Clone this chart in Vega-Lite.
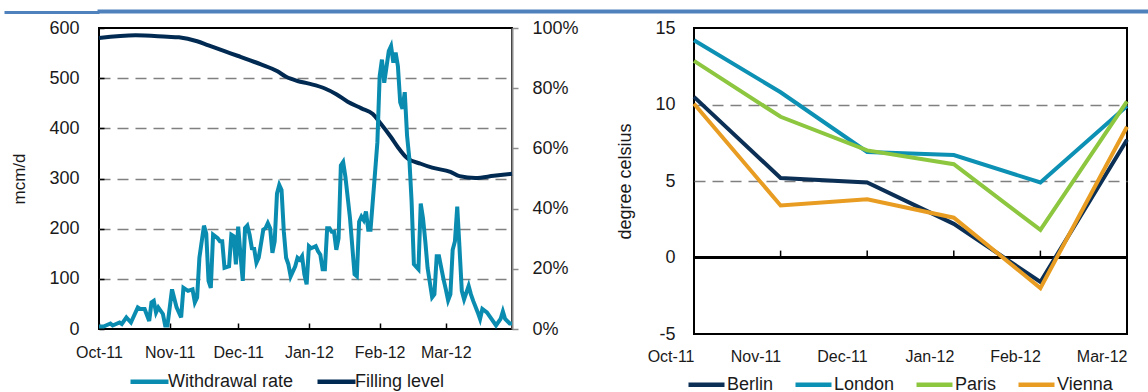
{
  "$schema": "https://vega.github.io/schema/vega-lite/v6.json",
  "padding": {"left": 1, "top": 9, "right": 0, "bottom": 0},
  "background": "white",
  "config": {
    "font": "Liberation Sans",
    "view": {"stroke": "black", "strokeWidth": 2},
    "axis": {"labelColor": "#1a1a1a", "titleColor": "#1a1a1a", "titleFontWeight": "normal", "domainColor": "black", "tickColor": "black", "labelFont": "Liberation Sans", "titleFont": "Liberation Sans"},
    "legend": {"labelFont": "Liberation Sans", "labelColor": "#1a1a1a"}
  },
  "datasets": {
    "withdrawal": [
      {"date": "2011-10-01", "rate": 5}, {"date": "2011-10-03", "rate": 5}, {"date": "2011-10-06", "rate": 11}, {"date": "2011-10-07", "rate": 7},
      {"date": "2011-10-10", "rate": 13}, {"date": "2011-10-11", "rate": 10}, {"date": "2011-10-13", "rate": 23}, {"date": "2011-10-15", "rate": 13},
      {"date": "2011-10-18", "rate": 43}, {"date": "2011-10-19", "rate": 40}, {"date": "2011-10-21", "rate": 40}, {"date": "2011-10-23", "rate": 16},
      {"date": "2011-10-24", "rate": 53}, {"date": "2011-10-25", "rate": 56}, {"date": "2011-10-26", "rate": 33}, {"date": "2011-10-27", "rate": 43},
      {"date": "2011-10-29", "rate": 30}, {"date": "2011-10-30", "rate": 7}, {"date": "2011-10-31", "rate": 7}, {"date": "2011-11-02", "rate": 79},
      {"date": "2011-11-04", "rate": 43}, {"date": "2011-11-06", "rate": 23}, {"date": "2011-11-07", "rate": 82}, {"date": "2011-11-09", "rate": 76},
      {"date": "2011-11-11", "rate": 79}, {"date": "2011-11-12", "rate": 53}, {"date": "2011-11-13", "rate": 63}, {"date": "2011-11-14", "rate": 142},
      {"date": "2011-11-16", "rate": 206}, {"date": "2011-11-17", "rate": 190}, {"date": "2011-11-18", "rate": 96}, {"date": "2011-11-19", "rate": 82},
      {"date": "2011-11-20", "rate": 188}, {"date": "2011-11-22", "rate": 181}, {"date": "2011-11-23", "rate": 175}, {"date": "2011-11-24", "rate": 175},
      {"date": "2011-11-25", "rate": 122}, {"date": "2011-11-27", "rate": 125}, {"date": "2011-11-28", "rate": 188}, {"date": "2011-11-29", "rate": 185},
      {"date": "2011-11-30", "rate": 129}, {"date": "2011-12-01", "rate": 204}, {"date": "2011-12-02", "rate": 148}, {"date": "2011-12-03", "rate": 96},
      {"date": "2011-12-04", "rate": 201}, {"date": "2011-12-05", "rate": 206}, {"date": "2011-12-06", "rate": 188}, {"date": "2011-12-07", "rate": 161},
      {"date": "2011-12-08", "rate": 160}, {"date": "2011-12-09", "rate": 132}, {"date": "2011-12-10", "rate": 142}, {"date": "2011-12-12", "rate": 198},
      {"date": "2011-12-13", "rate": 201}, {"date": "2011-12-14", "rate": 211}, {"date": "2011-12-15", "rate": 201}, {"date": "2011-12-16", "rate": 152},
      {"date": "2011-12-17", "rate": 175}, {"date": "2011-12-18", "rate": 270}, {"date": "2011-12-19", "rate": 287}, {"date": "2011-12-20", "rate": 277},
      {"date": "2011-12-21", "rate": 194}, {"date": "2011-12-22", "rate": 142}, {"date": "2011-12-23", "rate": 129}, {"date": "2011-12-24", "rate": 105},
      {"date": "2011-12-26", "rate": 125}, {"date": "2011-12-27", "rate": 142}, {"date": "2011-12-28", "rate": 138}, {"date": "2011-12-29", "rate": 145},
      {"date": "2011-12-30", "rate": 109}, {"date": "2011-12-31", "rate": 89}, {"date": "2012-01-01", "rate": 165}, {"date": "2012-01-02", "rate": 161},
      {"date": "2012-01-04", "rate": 165}, {"date": "2012-01-05", "rate": 155}, {"date": "2012-01-06", "rate": 148}, {"date": "2012-01-07", "rate": 119},
      {"date": "2012-01-08", "rate": 119}, {"date": "2012-01-09", "rate": 201}, {"date": "2012-01-10", "rate": 201}, {"date": "2012-01-11", "rate": 194},
      {"date": "2012-01-12", "rate": 194}, {"date": "2012-01-13", "rate": 158}, {"date": "2012-01-14", "rate": 181}, {"date": "2012-01-15", "rate": 326},
      {"date": "2012-01-16", "rate": 333}, {"date": "2012-01-17", "rate": 303}, {"date": "2012-01-19", "rate": 221}, {"date": "2012-01-21", "rate": 109},
      {"date": "2012-01-22", "rate": 105}, {"date": "2012-01-23", "rate": 214}, {"date": "2012-01-24", "rate": 224}, {"date": "2012-01-25", "rate": 217},
      {"date": "2012-01-26", "rate": 234}, {"date": "2012-01-27", "rate": 198}, {"date": "2012-01-28", "rate": 198}, {"date": "2012-01-30", "rate": 313},
      {"date": "2012-01-31", "rate": 372}, {"date": "2012-02-01", "rate": 504}, {"date": "2012-02-02", "rate": 537}, {"date": "2012-02-03", "rate": 491},
      {"date": "2012-02-05", "rate": 554}, {"date": "2012-02-06", "rate": 564}, {"date": "2012-02-07", "rate": 531}, {"date": "2012-02-08", "rate": 551},
      {"date": "2012-02-09", "rate": 524}, {"date": "2012-02-10", "rate": 452}, {"date": "2012-02-11", "rate": 439}, {"date": "2012-02-12", "rate": 472},
      {"date": "2012-02-13", "rate": 386}, {"date": "2012-02-14", "rate": 340}, {"date": "2012-02-15", "rate": 254}, {"date": "2012-02-16", "rate": 129},
      {"date": "2012-02-18", "rate": 119}, {"date": "2012-02-19", "rate": 250}, {"date": "2012-02-20", "rate": 221}, {"date": "2012-02-21", "rate": 175},
      {"date": "2012-02-22", "rate": 122}, {"date": "2012-02-24", "rate": 63}, {"date": "2012-02-25", "rate": 69}, {"date": "2012-02-26", "rate": 145},
      {"date": "2012-02-27", "rate": 145}, {"date": "2012-02-29", "rate": 99}, {"date": "2012-03-01", "rate": 79}, {"date": "2012-03-02", "rate": 57},
      {"date": "2012-03-03", "rate": 69}, {"date": "2012-03-04", "rate": 158}, {"date": "2012-03-05", "rate": 175}, {"date": "2012-03-06", "rate": 244},
      {"date": "2012-03-07", "rate": 161}, {"date": "2012-03-08", "rate": 76}, {"date": "2012-03-09", "rate": 59}, {"date": "2012-03-11", "rate": 86},
      {"date": "2012-03-12", "rate": 69}, {"date": "2012-03-13", "rate": 56}, {"date": "2012-03-15", "rate": 33}, {"date": "2012-03-16", "rate": 20},
      {"date": "2012-03-17", "rate": 40}, {"date": "2012-03-19", "rate": 33}, {"date": "2012-03-21", "rate": 20}, {"date": "2012-03-23", "rate": 7},
      {"date": "2012-03-25", "rate": 20}, {"date": "2012-03-26", "rate": 35}, {"date": "2012-03-27", "rate": 20}, {"date": "2012-03-29", "rate": 11},
      {"date": "2012-03-30", "rate": 11}
    ],
    "filling": [
      {"date": "2011-10-01", "level": 0.967}, {"date": "2011-10-17", "level": 0.976}, {"date": "2011-10-31", "level": 0.971},
      {"date": "2011-11-05", "level": 0.969}, {"date": "2011-11-13", "level": 0.956}, {"date": "2011-11-18", "level": 0.942},
      {"date": "2011-11-25", "level": 0.923}, {"date": "2011-12-01", "level": 0.907}, {"date": "2011-12-11", "level": 0.879},
      {"date": "2011-12-18", "level": 0.857}, {"date": "2011-12-22", "level": 0.838}, {"date": "2011-12-27", "level": 0.824},
      {"date": "2012-01-01", "level": 0.815}, {"date": "2012-01-08", "level": 0.799}, {"date": "2012-01-13", "level": 0.780},
      {"date": "2012-01-18", "level": 0.755}, {"date": "2012-01-24", "level": 0.733}, {"date": "2012-01-29", "level": 0.714},
      {"date": "2012-02-01", "level": 0.687}, {"date": "2012-02-06", "level": 0.637}, {"date": "2012-02-09", "level": 0.604},
      {"date": "2012-02-13", "level": 0.568}, {"date": "2012-02-19", "level": 0.549}, {"date": "2012-02-24", "level": 0.536},
      {"date": "2012-03-03", "level": 0.522}, {"date": "2012-03-07", "level": 0.508}, {"date": "2012-03-14", "level": 0.502},
      {"date": "2012-03-22", "level": 0.509}, {"date": "2012-03-30", "level": 0.516}
    ],
    "temps": [
      {"month": "Oct-11", "city": "Berlin", "temp": 10.5}, {"month": "Nov-11", "city": "Berlin", "temp": 5.2}, {"month": "Dec-11", "city": "Berlin", "temp": 4.9},
      {"month": "Jan-12", "city": "Berlin", "temp": 2.2}, {"month": "Feb-12", "city": "Berlin", "temp": -1.6}, {"month": "Mar-12", "city": "Berlin", "temp": 7.7},
      {"month": "Oct-11", "city": "London", "temp": 14.2}, {"month": "Nov-11", "city": "London", "temp": 10.8}, {"month": "Dec-11", "city": "London", "temp": 6.9},
      {"month": "Jan-12", "city": "London", "temp": 6.7}, {"month": "Feb-12", "city": "London", "temp": 4.9}, {"month": "Mar-12", "city": "London", "temp": 9.9},
      {"month": "Oct-11", "city": "Paris", "temp": 12.85}, {"month": "Nov-11", "city": "Paris", "temp": 9.2}, {"month": "Dec-11", "city": "Paris", "temp": 7.0},
      {"month": "Jan-12", "city": "Paris", "temp": 6.1}, {"month": "Feb-12", "city": "Paris", "temp": 1.8}, {"month": "Mar-12", "city": "Paris", "temp": 10.2},
      {"month": "Oct-11", "city": "Vienna", "temp": 10.05}, {"month": "Nov-11", "city": "Vienna", "temp": 3.4}, {"month": "Dec-11", "city": "Vienna", "temp": 3.8},
      {"month": "Jan-12", "city": "Vienna", "temp": 2.6}, {"month": "Feb-12", "city": "Vienna", "temp": -2.0}, {"month": "Mar-12", "city": "Vienna", "temp": 8.55}
    ]
  },
  "concat": [
    {
      "width": 1053, "height": 1,
      "data": {"values": []},
      "mark": {"type": "point", "opacity": 0},
      "encoding": {
        "y": {
          "datum": 0, "type": "quantitative",
          "scale": {"domain": [0, 1]},
          "axis": {"title": null, "values": [0.5], "labels": false, "domain": false, "grid": false, "tickSize": 95, "tickWidth": 3, "tickColor": "#4f81bd"}
        }
      },
      "view": {"stroke": "#4f81bd", "strokeWidth": 3}
    },
    {
      "concat": [
        {
          "width": 413, "height": 301,
          "layer": [
            {
              "data": {"name": "filling"},
              "mark": {"type": "line", "strokeWidth": 4, "interpolate": "monotone"},
              "encoding": {
                "x": {
                  "field": "date", "type": "temporal",
                  "scale": {"type": "utc", "domain": [{"year": 2011, "month": 10, "date": 1, "utc": true}, {"year": 2012, "month": 3, "date": 30, "utc": true}]},
                  "axis": {
                    "title": null,
                    "labelExpr": "utcFormat(datum.value, '%b-%y')",
                    "values": [{"year": 2011, "month": 10, "date": 1, "utc": true}, {"year": 2011, "month": 11, "date": 1, "utc": true}, {"year": 2011, "month": 12, "date": 1, "utc": true}, {"year": 2012, "month": 1, "date": 1, "utc": true}, {"year": 2012, "month": 2, "date": 1, "utc": true}, {"year": 2012, "month": 3, "date": 1, "utc": true}],
                    "domain": false, "grid": false, "tickSize": -6, "tickWidth": 1.5, "labelPadding": 21, "labelFontSize": 16, "labelFlush": false, "labelOverlap": false, "labelAngle": 0
                  }
                },
                "y": {
                  "field": "level", "type": "quantitative",
                  "scale": {"domain": [0, 1], "nice": false},
                  "axis": {"orient": "right", "title": null, "values": [0, 0.2, 0.4, 0.6, 0.8, 1], "format": ".0%", "grid": false, "domainColor": "#8c8c8c", "domainWidth": 2, "tickColor": "#8c8c8c", "tickSize": 6, "tickWidth": 1.5, "labelPadding": 14, "labelFontSize": 18}
                },
                "color": {
                  "datum": "Filling level", "type": "nominal",
                  "scale": {"domain": ["Withdrawal rate", "Filling level"], "range": ["#0a8cb0", "#002a52"]},
                  "legend": {"orient": "none", "legendX": 29, "legendY": 332, "direction": "horizontal", "title": null, "symbolType": "stroke", "symbolSize": 1444, "symbolStrokeWidth": 4.5, "labelFontSize": 18, "labelOffset": -3, "columnPadding": 14}
                }
              }
            },
            {
              "data": {"name": "withdrawal"},
              "mark": {"type": "line", "strokeWidth": 4},
              "encoding": {
                "x": {"field": "date", "type": "temporal"},
                "y": {
                  "field": "rate", "type": "quantitative",
                  "scale": {"domain": [0, 600], "nice": false},
                  "axis": {
                    "orient": "left", "title": "mcm/d", "titleFontSize": 17, "titlePadding": 20, "values": [0, 100, 200, 300, 400, 500, 600],
                    "domain": false, "tickSize": -5, "tickWidth": 1.5, "labelPadding": 25, "labelFontSize": 18,
                    "grid": true, "gridColor": "#808080", "gridWidth": 1.6, "gridDash": [11, 7],
                    "gridOpacity": {"condition": {"test": "datum.value > 0 && datum.value < 600", "value": 1}, "value": 0}
                  }
                },
                "color": {"datum": "Withdrawal rate", "type": "nominal"}
              }
            }
          ],
          "resolve": {"scale": {"y": "independent"}}
        },
        {
          "width": 433, "height": 306,
          "data": {"name": "temps"},
          "layer": [
            {
              "mark": {"type": "rule", "color": "black", "strokeWidth": 1.5},
              "encoding": {"y": {"datum": 0, "type": "quantitative"}}
            },
            {
              "transform": [{"filter": "datum.city == 'Berlin' && datum.month != 'Oct-11' && datum.month != 'Mar-12'"}],
              "mark": {"type": "rule", "color": "black", "strokeWidth": 1.5},
              "encoding": {
                "x": {"field": "month", "type": "ordinal"},
                "y": {"datum": 0, "type": "quantitative"},
                "y2": {"datum": 0.45}
              }
            },
            {
              "mark": {"type": "line", "strokeWidth": 4},
              "encoding": {
                "x": {
                  "field": "month", "type": "ordinal",
                  "scale": {"type": "point", "padding": 0, "domain": ["Oct-11", "Nov-11", "Dec-11", "Jan-12", "Feb-12", "Mar-12"]},
                  "axis": {"title": null, "ticks": false, "domain": false, "labelPadding": 22, "labelFontSize": 16, "labelAngle": 0, "grid": false}
                },
                "y": {
                  "field": "temp", "type": "quantitative",
                  "scale": {"domain": [-5, 15], "nice": false},
                  "axis": {
                    "title": "degree celsius", "titleFontSize": 18, "titlePadding": 20, "values": [-5, 0, 5, 10, 15],
                    "labelExpr": "datum.value < 0 ? '-' + (-datum.value) : '' + datum.value",
                    "domain": false, "ticks": false, "labelPadding": 19, "labelFontSize": 18,
                    "grid": true, "gridColor": "#808080", "gridWidth": 1.6, "gridDash": [11, 7],
                    "gridOpacity": {"condition": {"test": "datum.value == 5 || datum.value == 10", "value": 1}, "value": 0}
                  }
                },
                "color": {
                  "field": "city", "type": "nominal",
                  "scale": {"domain": ["Berlin", "London", "Paris", "Vienna"], "range": ["#0b2f55", "#0c90b3", "#8dc63f", "#e89d22"]},
                  "legend": {"orient": "none", "legendX": -8, "legendY": 336, "direction": "horizontal", "title": null, "symbolType": "stroke", "symbolSize": 1296, "symbolStrokeWidth": 4.5, "labelFontSize": 18, "labelOffset": 0, "columnPadding": 12}
                }
              }
            }
          ]
        }
      ],
      "columns": 2,
      "align": "none",
      "spacing": 35,
      "resolve": {"scale": {"color": "independent"}, "legend": {"color": "independent"}}
    }
  ],
  "columns": 1,
  "align": "none",
  "spacing": 3
}
